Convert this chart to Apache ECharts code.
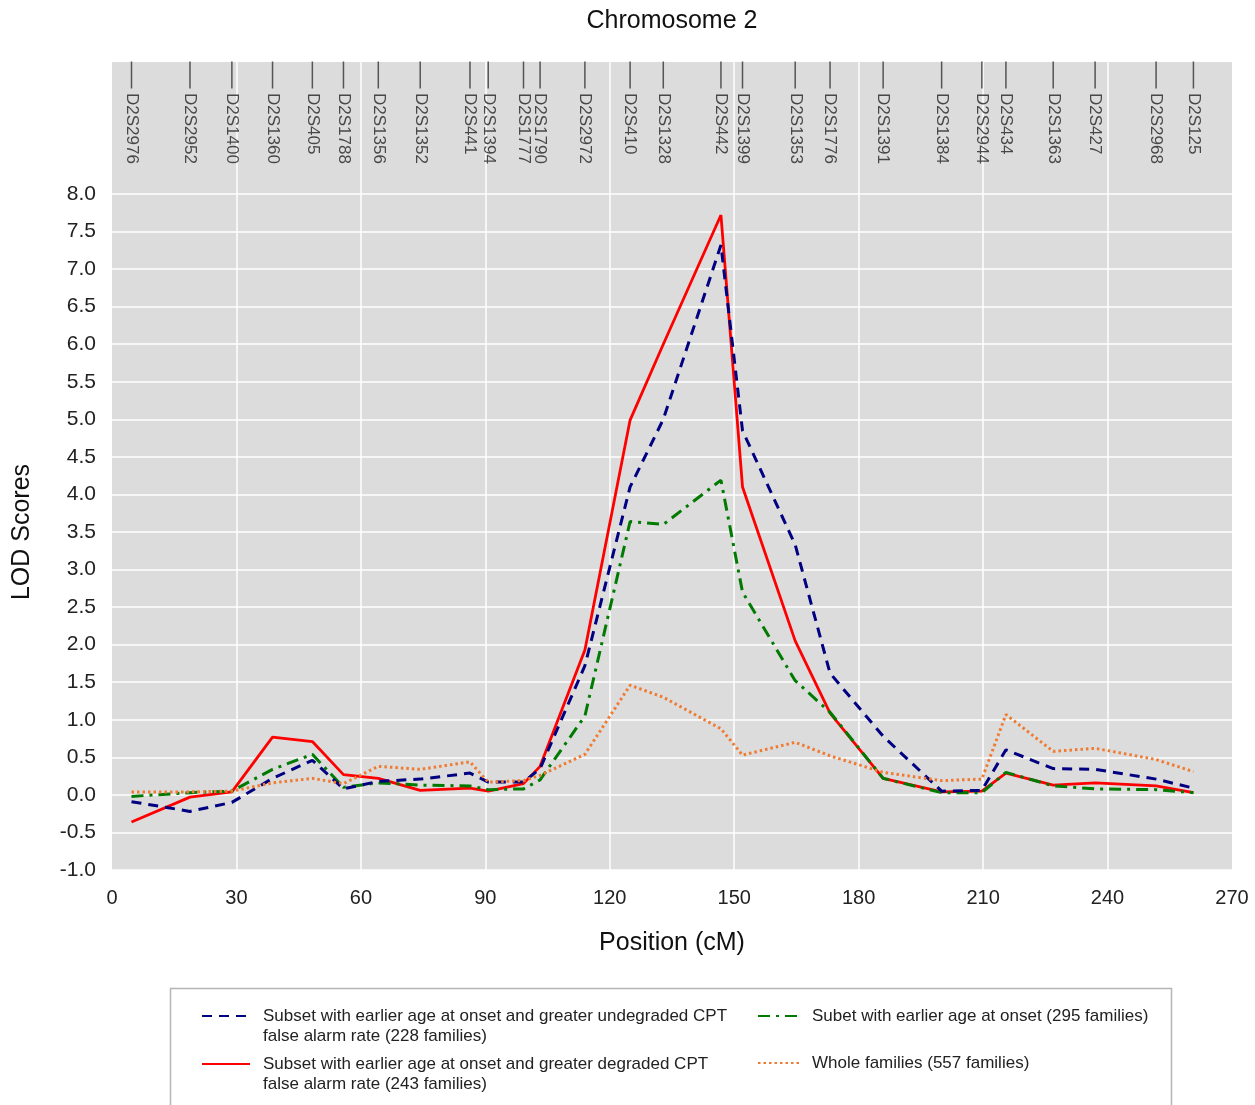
<!DOCTYPE html>
<html>
<head>
<meta charset="utf-8">
<script src="https://cdn.jsdelivr.net/npm/echarts@6/dist/echarts.min.js"></script>
<style>
  html, body { margin: 0; padding: 0; background: #ffffff; }
  #chart { width: 1255px; height: 1105px; }
</style>
</head>
<body>
<div id="chart"></div>
<script>
// ---- Data ----
const markerNames = ['D2S2976','D2S2952','D2S1400','D2S1360','D2S405','D2S1788','D2S1356','D2S1352','D2S441','D2S1394',
  'D2S1777','D2S1790','D2S2972','D2S410','D2S1328','D2S442','D2S1399','D2S1353','D2S1776','D2S1391',
  'D2S1384','D2S2944','D2S434','D2S1363','D2S427','D2S2968','D2S125'];
const markerPos = [4.7, 18.8, 28.9, 38.7, 48.3, 55.8, 64.2, 74.3, 86.3, 90.7,
  99.2, 103.2, 114.0, 124.9, 132.9, 146.8, 152.0, 164.7, 173.1, 185.9,
  200.0, 209.7, 215.5, 226.9, 237.0, 251.7, 260.7];

const lodUndegraded = [-0.09, -0.22, -0.10, 0.22, 0.46, 0.08, 0.18, 0.21, 0.29, 0.17,
  0.17, 0.35, 1.72, 4.10, 5.00, 7.32, 4.85, 3.33, 1.62, 0.78,
  0.05, 0.06, 0.60, 0.35, 0.34, 0.21, 0.09];
const lodDegraded = [-0.36, -0.03, 0.04, 0.77, 0.71, 0.27, 0.22, 0.06, 0.09, 0.05,
  0.15, 0.38, 1.93, 4.99, 6.00, 7.72, 4.10, 2.05, 1.09, 0.22,
  0.04, 0.05, 0.29, 0.13, 0.16, 0.12, 0.03];
const lodEarlyOnset = [-0.02, 0.03, 0.05, 0.34, 0.54, 0.10, 0.16, 0.13, 0.12, 0.07,
  0.08, 0.20, 1.05, 3.64, 3.60, 4.19, 2.70, 1.52, 1.10, 0.22,
  0.03, 0.03, 0.30, 0.12, 0.08, 0.07, 0.03];
const lodWhole = [0.04, 0.04, 0.05, 0.16, 0.22, 0.15, 0.38, 0.34, 0.44, 0.17,
  0.19, 0.26, 0.54, 1.46, 1.30, 0.88, 0.53, 0.70, 0.52, 0.30,
  0.19, 0.21, 1.07, 0.58, 0.62, 0.47, 0.31];

const xTicks = [0, 30, 60, 90, 120, 150, 180, 210, 240, 270];
const yTicks = [-1.0, -0.5, 0.0, 0.5, 1.0, 1.5, 2.0, 2.5, 3.0, 3.5, 4.0, 4.5, 5.0, 5.5, 6.0, 6.5, 7.0, 7.5, 8.0];

const NAME_UNDEG = 'Subset with earlier age at onset and greater undegraded CPT false alarm rate (228 families)';
const NAME_DEG = 'Subset with earlier age at onset and greater degraded CPT false alarm rate (243 families)';
const NAME_EARLY = 'Subet with earlier age at onset (295 families)';
const NAME_WHOLE = 'Whole families (557 families)';

// ---- Chart ----
const FONT = 'Liberation Sans, Arial, sans-serif';
const chart = echarts.init(document.getElementById('chart'), null, { renderer: 'canvas' });
const pairs = arr => markerPos.map((x, i) => [x, arr[i]]);
const HIDDEN_ICON_SYMBOL = { color: 'rgba(0,0,0,0)', borderColor: 'rgba(0,0,0,0)', borderWidth: 0, opacity: 0 };

function legendTwoLine(name, left, top) {
  return {
    data: [name], left: left, top: top, orient: 'horizontal',
    itemWidth: 48, itemHeight: 14, selectedMode: false, padding: 0,
    itemStyle: HIDDEN_ICON_SYMBOL,
    formatter: n => {
      const parts = n.split(' CPT ');
      return '{t|' + parts[0] + ' CPT}\n{t|' + parts[1] + '}';
    },
    textStyle: {
      fontFamily: FONT, fontSize: 17, color: '#222', lineHeight: 20, padding: [20, 0, 0, 8],
      rich: { t: { fontFamily: FONT, fontSize: 17, color: '#222', lineHeight: 20 } }
    }
  };
}
function legendOneLine(name, left, top) {
  return {
    data: [name], left: left, top: top, orient: 'horizontal',
    itemWidth: 44, itemHeight: 14, selectedMode: false, padding: 0,
    itemStyle: HIDDEN_ICON_SYMBOL,
    textStyle: { fontFamily: FONT, fontSize: 17, color: '#222', lineHeight: 20, padding: [0, 0, 0, 5] }
  };
}

const option = {
  backgroundColor: '#ffffff',
  animation: false,
  title: {
    text: 'Chromosome 2', left: 667, top: 4, textAlign: 'center',
    textStyle: { fontFamily: FONT, fontSize: 25, fontWeight: 'normal', color: '#111' }
  },
  graphic: [{
    type: 'rect', z: -10,
    shape: { x: 170.5, y: 988.5, width: 1001, height: 140 },
    style: { fill: '#ffffff', stroke: '#b5b5b5', lineWidth: 1.5 }
  }],
  legend: [
    legendTwoLine(NAME_UNDEG, 201, 986),
    legendTwoLine(NAME_DEG, 201, 1034),
    legendOneLine(NAME_EARLY, 757, 1006),
    legendOneLine(NAME_WHOLE, 757, 1053)
  ],
  grid: [
    { left: 112, right: 23, top: 194, height: 676, show: true, backgroundColor: '#dcdcdc', borderWidth: 0 },
    { left: 112, right: 23, top: 62, height: 132, show: true, backgroundColor: '#dcdcdc', borderWidth: 0 }
  ],
  xAxis: [
    {
      type: 'value', gridIndex: 0, min: xTicks[0], max: xTicks[xTicks.length - 1], interval: 30,
      name: 'Position (cM)', nameLocation: 'middle', nameGap: 61,
      nameTextStyle: { fontFamily: FONT, fontSize: 25, color: '#111' },
      axisLine: { show: false }, axisTick: { show: false },
      axisLabel: { fontFamily: FONT, fontSize: 20, color: '#222', margin: 18 },
      splitLine: { show: true, showMinLine: false, showMaxLine: false, lineStyle: { color: '#ffffff', width: 1.5 } }
    },
    {
      type: 'value', gridIndex: 1, min: xTicks[0], max: xTicks[xTicks.length - 1], interval: 30,
      axisLine: { show: false }, axisTick: { show: false }, axisLabel: { show: false },
      splitLine: { show: true, showMinLine: false, showMaxLine: false, lineStyle: { color: '#ffffff', width: 1.5 } }
    }
  ],
  yAxis: [
    {
      type: 'value', gridIndex: 0, min: yTicks[0], max: yTicks[yTicks.length - 1], interval: 0.5,
      name: 'LOD Scores', nameLocation: 'middle', nameGap: 77,
      nameTextStyle: { fontFamily: FONT, fontSize: 25, color: '#111' },
      axisLine: { show: false }, axisTick: { show: false },
      axisLabel: { fontFamily: FONT, fontSize: 21, color: '#222', margin: 16, formatter: v => v.toFixed(1) },
      splitLine: { show: true, lineStyle: { color: '#ffffff', width: 1.5 } }
    },
    {
      type: 'value', gridIndex: 1, min: 0, max: 132, inverse: true, show: false,
      splitLine: { show: false }
    }
  ],
  series: [
    {
      name: NAME_DEG, type: 'line', xAxisIndex: 0, yAxisIndex: 0, data: pairs(lodDegraded),
      symbol: 'circle', showSymbol: false, lineStyle: { color: '#ff0000', width: 2.8, type: 'solid' }, itemStyle: { color: '#ff0000' }
    },
    {
      name: NAME_EARLY, type: 'line', xAxisIndex: 0, yAxisIndex: 0, data: pairs(lodEarlyOnset),
      symbol: 'circle', showSymbol: false, lineStyle: { color: '#007a00', width: 3, type: [12, 6, 3, 6] }, itemStyle: { color: '#007a00' }
    },
    {
      name: NAME_UNDEG, type: 'line', xAxisIndex: 0, yAxisIndex: 0, data: pairs(lodUndegraded),
      symbol: 'circle', showSymbol: false, lineStyle: { color: '#000080', width: 3, type: [10, 7] }, itemStyle: { color: '#000080' }
    },
    {
      name: NAME_WHOLE, type: 'line', xAxisIndex: 0, yAxisIndex: 0, data: pairs(lodWhole),
      symbol: 'circle', showSymbol: false, lineStyle: { color: '#f07a30', width: 3, type: [2.5, 3] }, itemStyle: { color: '#f07a30' }
    },
    {
      name: 'markerTicks', type: 'scatter', xAxisIndex: 1, yAxisIndex: 1,
      data: markerPos.map((x, i) => ({ name: markerNames[i], value: [x, 13] })),
      symbol: 'rect', symbolSize: [1.5, 27], itemStyle: { color: '#333333' }, silent: true
    },
    {
      name: 'markerLabels', type: 'scatter', xAxisIndex: 1, yAxisIndex: 1,
      data: markerPos.map((x, i) => ({ name: markerNames[i], value: [x, 31] })),
      symbolSize: 0, silent: true,
      label: {
        show: true, position: 'inside', formatter: '{b}', rotate: -90,
        align: 'left', verticalAlign: 'middle',
        fontFamily: FONT, fontSize: 17, color: '#222'
      }
    }
  ]
};
chart.setOption(option);
</script>
</body>
</html>
